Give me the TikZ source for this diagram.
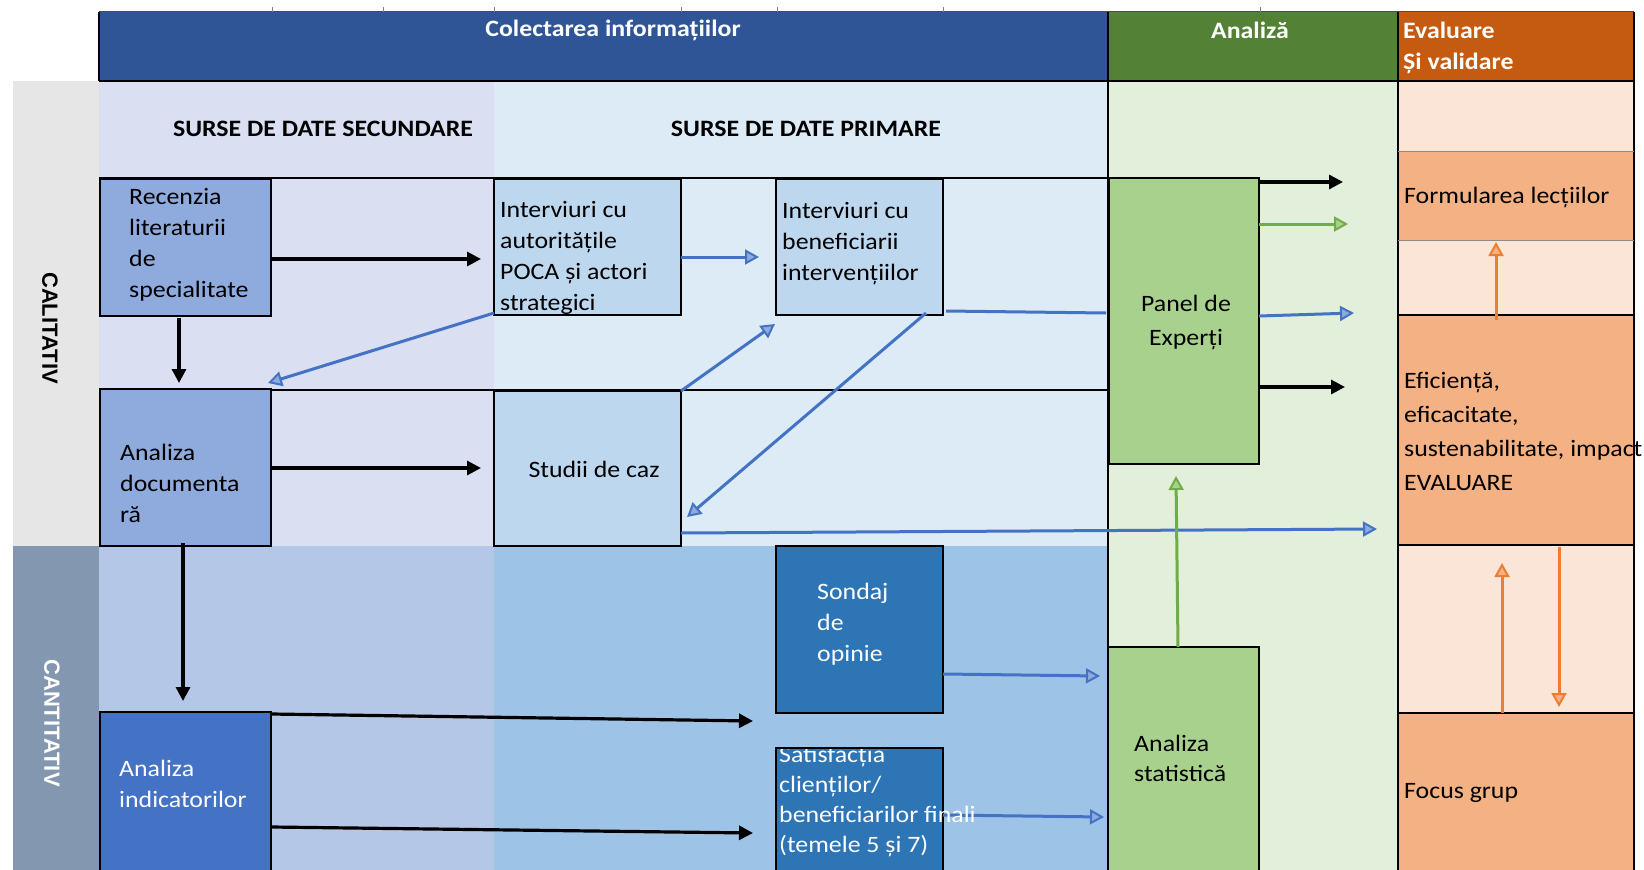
\documentclass[tikz,border=0pt]{standalone}
\usepackage{fontspec}
\setmainfont{Carlito}[FakeStretch=1.1]
\newfontfamily\sidefont{Liberation Sans}
\usetikzlibrary{arrows.meta,calc}
\definecolor{hblue}{HTML}{2F5597}
\definecolor{hgreen}{HTML}{538135}
\definecolor{horange}{HTML}{C55A11}
\definecolor{calgray}{HTML}{E7E6E6}
\definecolor{cantgray}{HTML}{8497B0}
\definecolor{secA}{HTML}{DAE0F2}
\definecolor{priA}{HTML}{DDEBF7}
\definecolor{secB}{HTML}{B4C7E7}
\definecolor{priB}{HTML}{9DC3E6}
\definecolor{anbg}{HTML}{E2EFDA}
\definecolor{evbg}{HTML}{FBE5D6}
\definecolor{evbox}{HTML}{F4B183}
\definecolor{secbox}{HTML}{8FAADC}
\definecolor{pribox}{HTML}{BDD7EE}
\definecolor{indbox}{HTML}{4472C4}
\definecolor{quantbox}{HTML}{2E75B6}
\definecolor{anbox}{HTML}{A9D18E}
\definecolor{arrblue}{HTML}{4472C4}
\definecolor{arrbluel}{HTML}{8FAADC}
\definecolor{arrgreen}{HTML}{70AD47}
\definecolor{arrgreenl}{HTML}{A9D18E}
\definecolor{arrorange}{HTML}{ED7D31}
\definecolor{arrorangel}{HTML}{F4B183}
\begin{document}
\begin{tikzpicture}[x=1pt,y=-1pt,
  box/.style={draw=black, line width=1.6pt, inner sep=0pt, outer sep=0pt, anchor=north west},
  cell/.style={inner sep=0pt, outer sep=0pt, anchor=north west},
  tx/.style={font=\fontsize{23.5}{31}\selectfont, align=left, inner sep=0pt, anchor=west},
  hd/.style={font=\fontsize{23.5}{28}\selectfont\bfseries, text=white, inner sep=0pt},
  sh/.style={font=\fontsize{23.5}{28}\selectfont\bfseries, inner sep=0pt},
  side/.style={font=\sidefont\bfseries\fontsize{22}{26}\selectfont, inner sep=0pt, rotate=-90},
  blk/.style={draw=black, line width=3.2pt, -{Triangle[length=14pt,width=14pt]}},
  blu/.style={draw=arrblue, line width=3pt, -{Triangle[length=14pt,width=15pt,line width=2pt,fill=arrbluel]}},
  grn/.style={draw=arrgreen, line width=3pt, -{Triangle[length=14pt,width=15pt,line width=2pt,fill=arrgreenl]}},
  org/.style={draw=arrorange, line width=3pt, -{Triangle[length=14pt,width=15pt,line width=2pt,fill=arrorangel]}},
  tline/.style={draw=black, line width=1.6pt}
]
\useasboundingbox (0,0) rectangle (1644,870);
\clip (0,0) rectangle (1644,870);
\fill[white] (0,0) rectangle (1644,870);

% header
\fill[hblue] (99,12) rectangle (1108,81);
\fill[hgreen] (1108,12) rectangle (1398,81);
\fill[horange] (1398,12) rectangle (1634,81);
\draw[black!70, line width=1pt] (99,11.5) -- (1634,11.5);
\foreach \tx in {272,383,494,681,777,943,1260}
  \draw[black!50, line width=0.8pt] (\tx,7) -- (\tx,12);

% body backgrounds
\fill[calgray] (13,81) rectangle (99,546);
\fill[cantgray] (13,546) rectangle (99,870);
\fill[secA] (99,81) rectangle (494,546);
\fill[priA] (494,81) rectangle (1108,546);
\fill[secB] (99,546) rectangle (494,870);
\fill[priB] (494,546) rectangle (1108,870);
\fill[anbg] (1108,81) rectangle (1398,870);
\fill[evbg] (1398,81) rectangle (1634,870);

% evaluation cells
\node[cell, fill=evbox, minimum width=236pt, minimum height=89pt] (form) at (1398,151) {};
\node[cell, fill=evbox, minimum width=236pt, minimum height=230pt] (efic) at (1398,315) {};
\node[cell, fill=evbox, minimum width=236pt, minimum height=170pt] (focus) at (1398,713) {};

% table lines
\draw[line width=1.5pt] (99,12) -- (99,81);
\draw[line width=2pt] (99,81) -- (1634,81);
\draw[line width=1.2pt] (1108,12) -- (1108,870);
\draw[tline] (1398,12) -- (1398,870);
\draw[tline] (1634,12) -- (1634,870);
\draw[line width=2.2pt] (99,178) -- (1108,178);
\draw[line width=2.2pt] (99,390) -- (1108,390);
\draw[black!45, line width=1pt] (1398,151) -- (1634,151);
\draw[black!45, line width=1pt] (1398,240) -- (1634,240);
\draw[tline] (1398,315) -- (1634,315);
\draw[tline] (1398,545) -- (1634,545);
\draw[tline] (1398,713) -- (1634,713);

% boxes
\node[box, fill=secbox, minimum width=171pt, minimum height=137pt] (rec) at (100,179) {};
\node[box, fill=secbox, minimum width=171pt, minimum height=157pt] (doc) at (100,389) {};
\node[box, fill=indbox, minimum width=171pt, minimum height=170pt] (ind) at (100,712) {};
\node[box, fill=pribox, minimum width=187pt, minimum height=136pt] (poca) at (494,179) {};
\node[box, fill=pribox, minimum width=167pt, minimum height=136pt] (ben) at (776,179) {};
\node[box, fill=pribox, minimum width=187pt, minimum height=155pt] (stud) at (494,391) {};
\node[box, fill=quantbox, minimum width=167pt, minimum height=167pt] (sond) at (776,546) {};
\node[box, fill=quantbox, minimum width=167pt, minimum height=134pt] (sat) at (776,748) {};
\node[box, fill=anbox, minimum width=150pt, minimum height=286pt] (panel) at (1109,178) {};
\node[box, fill=anbox, minimum width=151pt, minimum height=235pt] (stat) at (1108,647) {};

% connectors
\draw[blk] ($(rec.east)+(0,11.5)$) -- ($(poca.west)+(-13,12)$);
\draw[blk] ($(rec.south)+(-6.5,2)$) -- ($(doc.north)+(-6.5,-6)$);
\draw[blu] ($(poca.south west)+(0,-2)$) -- ($(doc.north east)+(-3,-6)$);
\draw[blk] ($(doc.east)+(0,0.5)$) -- ($(stud.west)+(-13,-0.5)$);
\draw[blu] ($(poca.east)+(0,10)$) -- ($(ben.west)+(-17,10)$);
\draw[blu] (stud.north east) -- ($(ben.south west)+(-1,9)$);
\draw[blu] ($(ben.south east)+(-17,-2)$) -- ($(stud.south east)+(6,-29)$);
\draw[draw=arrblue, line width=3pt] ($(ben.south east)+(3,-4)$) -- ($(panel.west)+(-3,-8)$);
\draw[blu] ($(stud.south east)+(0,-13)$) -- ($(efic.south west)+(-21,-16)$);
\draw[blk] ($(panel.north east)+(0,4)$) -- ($(form.west)+(-55,-13.5)$);
\draw[grn] ($(panel.north east)+(0,46)$) -- ($(form.west)+(-50,28.5)$);
\draw[blu] ($(panel.east)+(0,-5)$) -- ($(efic.north west)+(-44,-2)$);
\draw[blk] ($(panel.east)+(0,66)$) -- ($(efic.west)+(-53,-43)$);
\draw[grn] ($(stat.north)+(-5.5,0)$) -- ($(panel.south)+(-8,12)$);
\draw[blk] ($(doc.south)+(-2.5,-3)$) -- ($(ind.north)+(-2.5,-11)$);
\draw[blk] ($(ind.north east)+(0,2)$) -- ($(sond.south west)+(-23,8)$);
\draw[blk] ($(ind.north east)+(0,115)$) -- ($(sat.west)+(-23,18)$);
\draw[blu] ($(sond.east)+(0,44.5)$) -- ($(stat.north west)+(-8,29)$);
\draw[blu] (sat.east) -- ($(stat.west)+(-4,52.5)$);
\draw[org] ($(efic.north)+(-20,5)$) -- ($(form.south)+(-20,2)$);
\draw[org] ($(focus.north)+(-14,0)$) -- ($(efic.south)+(-14,18)$);
\draw[org] ($(efic.south)+(43,2)$) -- ($(focus.north)+(43,-6)$);

% header texts
\node[hd] (hcol) at (613,30) {Colectarea informațiilor};
\node[hd] (hana) at (1250,30) {Analiză};
\node[hd, anchor=west] (hev1) at (1403,30) {Evaluare};
\node[hd, anchor=west] (hev2) at (1403,63) {Și validare};
\node[sh] (sec) at (323,129) {SURSE DE DATE SECUNDARE};
\node[sh] (pri) at (806,129) {SURSE DE DATE PRIMARE};
\node[side] (cal) at (50,328) {CALITATIV};
\node[side, text=white] (cant) at (52,723) {CANTITATIV};

% box texts
\node[tx] (trec) at (129,245) {Recenzia\\literaturii\\de\\specialitate};
\node[tx] (tdoc) at (120,483) {Analiza\\documenta\\ră};
\node[tx] (tpoca) at (500,258) {Interviuri cu\\autoritățile\\POCA și actori\\strategici};
\node[tx] (tben) at (782,244) {Interviuri cu\\beneficiarii\\intervențiilor};
\node[tx, anchor=center] (tstud) at (594,469) {Studii de caz};
\node[tx, align=center, anchor=center, font=\fontsize{23.5}{34}\selectfont] (tpan) at (1186,322) {Panel de\\Experți};
\node[tx, text=white] (tsond) at (817,624) {Sondaj\\de\\opinie};
\begin{scope}
\clip (770,749) rectangle (1010,870);
\node[tx, text=white, font=\fontsize{23.5}{30}\selectfont] (tsat) at (779,802) {Satisfacția\\clienților/\\beneficiarilor finali\\(temele 5 și 7)};
\end{scope}
\node[tx, font=\fontsize{23.5}{30}\selectfont] (tstat) at (1134,758) {Analiza\\statistică};
\node[tx] (tform) at (1404,197) {Formularea lecțiilor};
\node[tx, font=\fontsize{23.5}{34}\selectfont] (tefic) at (1404,431) {Eficiență,\\eficacitate,\\sustenabilitate, impact\\EVALUARE};
\node[tx] (tfoc) at (1404,793) {Focus grup};
\node[tx, text=white] (tind) at (119,784) {Analiza\\indicatorilor};
\end{tikzpicture}
\end{document}
